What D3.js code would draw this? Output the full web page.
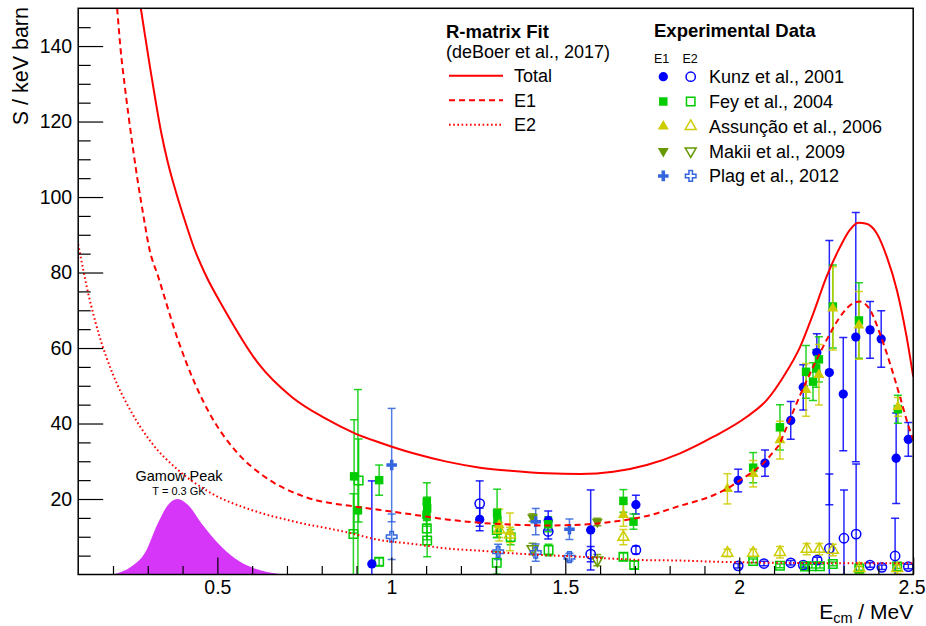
<!DOCTYPE html>
<html><head><meta charset="utf-8">
<script src="https://cdn.jsdelivr.net/npm/d3@7"></script>
<style>
body{margin:0;background:#fff}
text{font-family:"Liberation Sans",Arial,Helvetica,sans-serif;fill:#000}
</style>
</head><body>
<svg id="chart" width="926" height="626"></svg>
<script>
// ---------- axis ticks ----------
const xTicks = [0.5, 1, 1.5, 2, 2.5];
const xMinorTicks = [0.2,0.3,0.4,0.6,0.7,0.8,0.9,1.1,1.2,1.3,1.4,1.6,1.7,1.8,1.9,2.1,2.2,2.3,2.4];
const yTicks = [20, 40, 60, 80, 100, 120, 140];
const yMinorTicks = [5,10,15,25,30,35,45,50,55,65,70,75,85,90,95,105,110,115,125,130,135,145];

// ---------- R-matrix curves [E (MeV), S (keV b)] ----------
const totalCurve = [[0.280,150],[0.291,143.4],[0.306,134.6],[0.322,125.7],[0.339,116.9],[0.358,109],[0.382,101],[0.406,93.9],[0.433,86.5],[0.464,79.8],[0.521,70.1],[0.617,56],[0.713,47.1],[0.809,41.4],[0.895,37.4],[0.968,34.9],[1.063,32.1],[1.159,29.9],[1.255,28.3],[1.351,27.4],[1.447,26.8],[1.543,26.6],[1.638,27.2],[1.734,29],[1.83,32.1],[1.926,36.5],[2.022,41.8],[2.079,46.2],[2.127,52.4],[2.175,60.3],[2.213,69.2],[2.251,78.9],[2.29,86.8],[2.318,91.3],[2.342,93.2],[2.366,92.9],[2.395,90.4],[2.424,84.2],[2.453,75.4],[2.481,63],[2.5,52.4]];
const e1Curve = [[0.212,150],[0.222,139],[0.234,129.3],[0.245,121.3],[0.258,112.5],[0.272,103.7],[0.288,94.8],[0.304,86.5],[0.33,78.9],[0.387,62.1],[0.435,50.7],[0.483,41.8],[0.55,33],[0.636,25.9],[0.751,20.6],[0.895,18],[0.968,17.1],[1.06,15.9],[1.159,14.6],[1.255,13.7],[1.351,13.2],[1.447,13.0],[1.543,13.2],[1.638,14.0],[1.734,15.5],[1.83,18.2],[1.926,21.0],[1.964,22.7],[2.0,24.8],[2.04,27.3],[2.07,29.5],[2.098,32.5],[2.117,34.8],[2.127,37.0],[2.175,47.5],[2.213,55.1],[2.251,62.1],[2.29,68.3],[2.328,71.9],[2.347,72.3],[2.376,70.1],[2.404,63.9],[2.433,56],[2.462,47.1],[2.49,38.3],[2.5,35.7]];
const e2Curve = [[0.1,87.5],[0.13,74],[0.16,63.5],[0.2,53],[0.25,43.5],[0.31,35],[0.387,27.7],[0.483,21.5],[0.598,17.1],[0.722,14],[0.867,11.3],[0.968,9.1],[1.063,8.1],[1.159,6.9],[1.255,6.3],[1.351,5.6],[1.447,5.1],[1.543,4.7],[1.638,4.2],[1.734,3.8],[1.83,3.7],[1.926,3.4],[2.022,3.2],[2.118,3.1],[2.3,3.0],[2.5,3.0]];

// ---------- Gamow peak (T = 0.3 GK) ----------
const gamowE = [0.2,0.253,0.291,0.329,0.358,0.385,0.416,0.454,0.502,0.55,0.598,0.646,0.69];
const gamowS = [0,2.1,5.6,13.6,18.4,20,18.4,13.6,8.3,4.3,1.9,0.6,0];

// ---------- experimental data [E, S, err] ----------
const kunzE1 = [[0.944,2.8,22],[1.254,14.6,3],[1.451,14.3,2.5],[1.573,11.8,10.6],[1.703,18.5,2.5],[1.997,24.9,3],[2.074,29.5,3.5],[2.148,40.8,5],[2.184,49.6,6],[2.223,58.8,5],[2.259,53.5,35],[2.299,47.8,15],[2.335,62.9,33],[2.376,64.8,7.5],[2.408,62.4,7.5],[2.451,30.8,12],[2.486,35.8,4.5]];
const kunzE2 = [[1.254,18.8,6],[1.451,11.4,2],[1.573,5.4,2],[1.703,6.5,1],[1.997,2.3,0.6],[2.071,2.9,0.6],[2.148,3.1,0.6],[2.184,2.5,0.6],[2.224,3.8,0.8],[2.259,6.9,19.7],[2.301,9.6,12.8],[2.336,10.7,18.6],[2.376,2.5,0.6],[2.41,1.9,0.6],[2.448,4.9,10],[2.486,2.1,0.6]];
const feyE1 = [[0.893,26,15],[0.904,17,32],[0.965,25,4],[1.102,19.3,5],[1.103,17.5,3],[1.101,15.8,3],[1.304,16.2,6.4],[1.305,14.4,3],[1.451,13.3,2],[1.667,19.5,3],[1.696,14.0,2],[2.04,28.3,4],[2.117,39.0,6],[2.192,53.7,7],[2.212,51.1,5],[2.221,54.6,5],[2.229,57.0,6],[2.269,71.0,11],[2.344,67.3,10],[2.456,43.8,3.7]];
const feyE2 = [[0.891,10.7,10.7],[0.906,24.9,11],[0.965,3.4,1],[1.102,12.2,3],[1.103,9.0,4.3],[1.303,11.8,2],[1.303,3.1,3],[1.343,9.9,2],[1.452,6.5,1.5],[1.667,4.7,1],[1.698,2.5,1],[2.04,3.6,0.5],[2.117,2.3,0.5],[2.189,2.1,0.5],[2.209,2.2,0.5],[2.232,2.2,0.5],[2.269,2.8,0.5],[2.345,1.6,0.5],[2.454,2.1,0.5]];
const assuncaoE1 = [[1.31,13.1,4.2],[1.341,11.3,5],[1.667,15.8,3],[1.966,22.7,4],[2.04,26.7,3.5],[2.117,35.6,5],[2.192,48.9,7],[2.229,52.9,8],[2.269,70.5,11],[2.344,66.0,9],[2.456,44.4,2.5]];
const assuncaoE2 = [[1.31,11.8,2],[1.341,10.5,2],[1.667,9.9,2],[1.966,5.7,1],[2.04,5.7,1],[2.117,5.9,1.5],[2.194,6.7,1.5],[2.23,6.7,1.5],[2.269,6.5,1.5],[2.345,1.6,1.5],[2.454,1.6,1.5]];
const makiiE1 = [[1.406,15.1,1],[1.592,13.9,1]];
const makiiE2 = [[1.406,6.8,1.5],[1.592,3.8,1.5]];
const plagE1 = [[1.001,29,15],[1.415,14.0,3.5],[1.512,12.0,2.7]];
const plagE2 = [[1.001,10,6],[1.307,6.0,2],[1.415,5.8,2.3],[1.512,4.6,1]];

const seriesNames = ["Kunz et al., 2001","Fey et al., 2004","Assunção et al., 2006","Makii et al., 2009","Plag et al., 2012"];
const seriesColors = ["#0000ff","#00cc00","#cccc00","#669900","#3366dd"];
const seriesShapes = ["circle","square","triangle","triangleDown","cross"];
const seriesE1 = [kunzE1, feyE1, assuncaoE1, makiiE1, plagE1];
const seriesE2 = [kunzE2, feyE2, assuncaoE2, makiiE2, plagE2];

// ---------- layout ----------
const svg = d3.select("#chart");
const L = 78.2, R = 913.2, T = 8.3, B = 574.5;
const x = d3.scaleLinear().domain([0.1, 2.5]).range([L, R]);
const y = d3.scaleLinear().domain([0, 150]).range([B, T]);

svg.append("defs").append("clipPath").attr("id","clip")
  .append("rect").attr("x",L).attr("y",T).attr("width",R-L).attr("height",B-T);

// Gamow peak
const gamow = gamowE.map((e,i)=>[e,gamowS[i]]);
svg.append("path").datum(gamow)
  .attr("d", d3.area().x(d=>x(d[0])).y0(y(0)).y1(d=>y(d[1])).curve(d3.curveMonotoneX))
  .attr("fill","#d636f7");

svg.append("text").attr("x",179).attr("y",481).attr("text-anchor","middle")
  .style("font-size","14.5px").text("Gamow Peak");
svg.append("text").attr("x",179).attr("y",495).attr("text-anchor","middle")
  .style("font-size","11px").text("T = 0.3 GK");

// symbols
const symType = {circle:d3.symbolCircle, square:d3.symbolSquare, triangle:d3.symbolTriangle, triangleDown:d3.symbolTriangle, cross:d3.symbolCross};
const symSize = {circle:68, square:72, triangle:52, triangleDown:52, cross:62};
function drawMarker(g, shape, cx, cy, color, filled){
  const p = g.append("path")
    .attr("d", d3.symbol().type(symType[shape]).size(symSize[shape])())
    .attr("transform", `translate(${cx},${cy})` + (shape==="triangleDown" ? " rotate(180)" : ""));
  if(filled) p.attr("fill", color).attr("stroke","none");
  else p.attr("fill","none").attr("stroke", color).attr("stroke-width",1.5);
}

// data
const dataG = svg.append("g");
const barsG = dataG.append("g").attr("clip-path","url(#clip)");
const markG = dataG.append("g");
function drawSeries(data, color, shape, filled){
  data.forEach(d=>{
    const cx = x(d[0]);
    const y1 = y(Math.max(0,d[1]-d[2])), y2 = y(d[1]+d[2]);
    barsG.append("line").attr("x1",cx).attr("x2",cx).attr("y1",y1+ (d[1]-d[2]<0?2:0)).attr("y2",y2)
      .attr("stroke",color).attr("stroke-width",1.5).attr("stroke-opacity",0.85);
    [d[1]-d[2], d[1]+d[2]].forEach(v=>{
      if(v>0) barsG.append("line").attr("x1",cx-4).attr("x2",cx+4).attr("y1",y(v)).attr("y2",y(v))
        .attr("stroke",color).attr("stroke-width",1.5).attr("stroke-opacity",0.85);
    });
    drawMarker(markG, shape, cx, y(d[1]), color, filled);
  });
}
seriesE2.forEach((s,i)=>drawSeries(s, seriesColors[i], seriesShapes[i], false));
seriesE1.forEach((s,i)=>drawSeries(s, seriesColors[i], seriesShapes[i], true));

// curves
const line = d3.line().x(d=>x(d[0])).y(d=>y(d[1])).curve(d3.curveMonotoneX);
const curveG = svg.append("g").attr("clip-path","url(#clip)");
curveG.append("path").datum(totalCurve).attr("d",line).attr("fill","none").attr("stroke","#ff0000").attr("stroke-width",2);
curveG.append("path").datum(e1Curve).attr("d",line).attr("fill","none").attr("stroke","#ff0000").attr("stroke-width",2).attr("stroke-dasharray","6,4");
curveG.append("path").datum(e2Curve).attr("d",line).attr("fill","none").attr("stroke","#ff0000").attr("stroke-width",2).attr("stroke-dasharray","1.6,2.6");

// axes
const xAx = svg.append("g").attr("transform",`translate(0,${B})`)
  .call(d3.axisBottom(x).tickValues(xTicks).tickFormat(d3.format("~g")).tickSizeInner(-17).tickSizeOuter(0).tickPadding(6));
svg.append("g").attr("transform",`translate(0,${B})`)
  .call(d3.axisBottom(x).tickValues(xMinorTicks).tickFormat("").tickSizeInner(-8.5).tickSizeOuter(0));
svg.append("g").attr("transform",`translate(${L},0)`)
  .call(d3.axisLeft(y).tickValues(yTicks).tickFormat(d3.format("~g")).tickSizeInner(-25).tickSizeOuter(0).tickPadding(6));
svg.append("g").attr("transform",`translate(${L},0)`)
  .call(d3.axisLeft(y).tickValues(yMinorTicks).tickFormat("").tickSizeInner(-12.5).tickSizeOuter(0));
svg.selectAll(".domain").remove();
svg.selectAll(".tick line").attr("stroke","#000").attr("stroke-width",1.2);
svg.selectAll(".tick text").style("font-size","19.5px").style("font-family",'"Liberation Sans",Arial,sans-serif').attr("fill","#000");
// keep the last x label inside the picture
xAx.selectAll(".tick text").filter(d=>d===2.5).attr("text-anchor","end").attr("x",12);

// frame
svg.append("rect").attr("x",L).attr("y",T).attr("width",R-L).attr("height",B-T)
  .attr("fill","none").attr("stroke","#000").attr("stroke-width",1.5);

// axis titles
const xt = svg.append("text").attr("x",R).attr("y",618.5).attr("text-anchor","end").style("font-size","21px");
xt.append("tspan").text("E");
xt.append("tspan").attr("dy",4).style("font-size","14.5px").text("cm");
xt.append("tspan").attr("dy",-4).text(" / MeV");
svg.append("text").attr("transform","translate(28,7) rotate(-90)").attr("text-anchor","end")
  .style("font-size","21.5px").text("S / keV barn");

// legend: R-matrix fit
svg.append("text").attr("x",446).attr("y",38).style("font-size","18.5px").style("font-weight","bold").text("R-matrix Fit");
svg.append("text").attr("x",446).attr("y",57.5).style("font-size","18px").text("(deBoer et al., 2017)");
const fitNames = ["Total","E1","E2"];
const fitDash = [null,"6,4","1.6,2.6"];
fitNames.forEach((n,i)=>{
  const yy = 75.7 + i*24.5;
  svg.append("line").attr("x1",449).attr("x2",503).attr("y1",yy).attr("y2",yy)
    .attr("stroke","#ff0000").attr("stroke-width",2).attr("stroke-dasharray",fitDash[i]);
  svg.append("text").attr("x",514).attr("y",yy+6.5).style("font-size","18px").text(n);
});

// legend: experimental data
svg.append("text").attr("x",654).attr("y",37).style("font-size","18.5px").style("font-weight","bold").text("Experimental Data");
svg.append("text").attr("x",654).attr("y",63).style("font-size","12.5px").text("E1");
svg.append("text").attr("x",682.5).attr("y",63).style("font-size","12.5px").text("E2");
const legG = svg.append("g");
seriesNames.forEach((n,i)=>{
  const yy = 76.7 + i*24.8;
  drawMarker(legG, seriesShapes[i], 663.3, yy, seriesColors[i], true);
  drawMarker(legG, seriesShapes[i], 690.7, yy, seriesColors[i], false);
  svg.append("text").attr("x",709).attr("y",yy+6.5).style("font-size","18px").text(n);
});
</script>
</body></html>
